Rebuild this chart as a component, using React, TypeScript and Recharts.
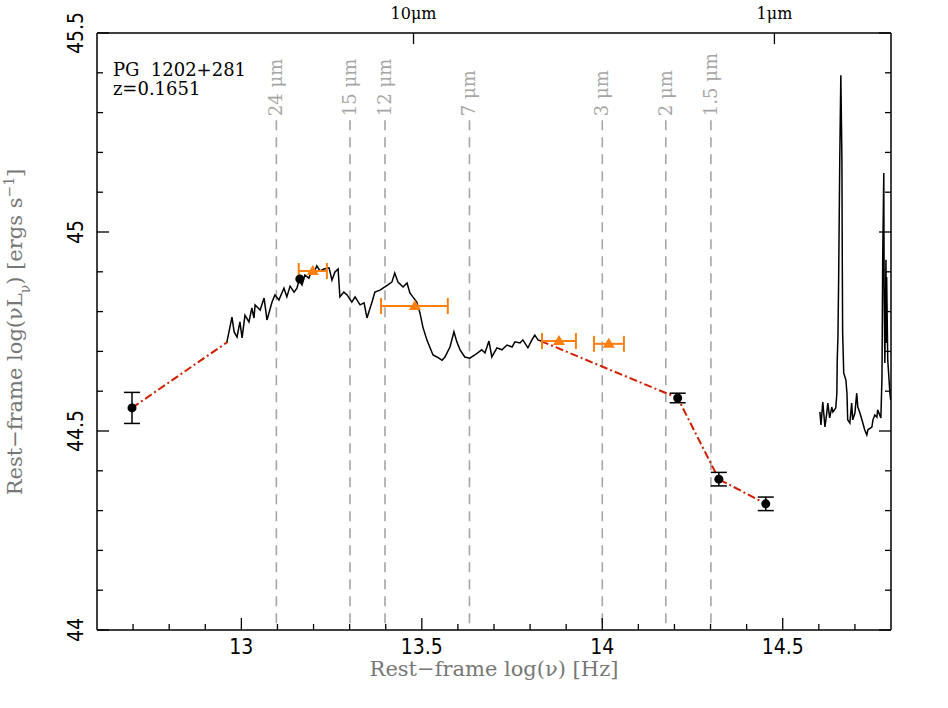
import React from 'react'
import {
  ComposedChart,
  Line,
  Scatter,
  XAxis,
  YAxis,
  ErrorBar,
  ReferenceLine,
  ReferenceDot,
} from 'recharts'

// IRS mid-infrared spectrum (log nu, log nuL_nu)
const IRS_NU = [
  12.960, 12.974, 12.980, 12.988, 12.996, 13.002, 13.010, 13.021, 13.029, 13.035,
  13.038, 13.052, 13.063, 13.071, 13.085, 13.093, 13.104, 13.118, 13.126, 13.135,
  13.146, 13.154, 13.160, 13.168, 13.176, 13.187, 13.193, 13.201, 13.209, 13.218,
  13.229, 13.243, 13.251, 13.259, 13.268, 13.273, 13.284, 13.293, 13.306, 13.315,
  13.329, 13.340, 13.348, 13.362, 13.370, 13.384, 13.406, 13.417, 13.425, 13.434,
  13.448, 13.459, 13.467, 13.475, 13.486, 13.495, 13.503, 13.514, 13.522, 13.531,
  13.542, 13.556, 13.564, 13.578, 13.589, 13.597, 13.606, 13.619, 13.633, 13.647,
  13.666, 13.675, 13.686, 13.694, 13.708, 13.722, 13.736, 13.750, 13.758, 13.772,
  13.780, 13.794, 13.805, 13.813, 13.822, 13.830,
]
const IRS_LUM = [
  44.724, 44.786, 44.749, 44.736, 44.774, 44.734, 44.791, 44.774, 44.809, 44.784,
  44.817, 44.804, 44.834, 44.779, 44.824, 44.842, 44.829, 44.859, 44.837, 44.864,
  44.849, 44.859, 44.879, 44.867, 44.892, 44.884, 44.899, 44.897, 44.915, 44.902,
  44.907, 44.910, 44.879, 44.899, 44.907, 44.837, 44.849, 44.842, 44.824, 44.837,
  44.817, 44.822, 44.784, 44.824, 44.849, 44.854, 44.867, 44.874, 44.897, 44.874,
  44.862, 44.872, 44.847, 44.837, 44.824, 44.796, 44.761, 44.729, 44.711, 44.691,
  44.686, 44.678, 44.686, 44.711, 44.749, 44.724, 44.704, 44.686, 44.683, 44.691,
  44.704, 44.696, 44.726, 44.686, 44.709, 44.704, 44.716, 44.711, 44.724, 44.721,
  44.729, 44.709, 44.729, 44.741, 44.729, 44.726,
]

// optical / near-IR spectrum
const OPT_NU = [
  14.603, 14.606, 14.611, 14.617, 14.622, 14.625, 14.630, 14.636, 14.639, 14.647,
  14.650, 14.651, 14.653, 14.655, 14.658, 14.661, 14.664, 14.665, 14.666, 14.669,
  14.675, 14.678, 14.680, 14.686, 14.691, 14.694, 14.700, 14.705, 14.708, 14.714,
  14.722, 14.727, 14.733, 14.736, 14.747, 14.750, 14.755, 14.761, 14.763, 14.772,
  14.775, 14.777, 14.780, 14.781, 14.783, 14.786, 14.787, 14.788, 14.791, 14.797,
  14.799,
]
const OPT_LUM = [
  44.548, 44.515, 44.573, 44.510, 44.545, 44.570, 44.533, 44.560, 44.548, 44.558,
  44.595, 44.678, 44.736, 44.887, 45.181, 45.394, 45.181, 44.930, 44.746, 44.646,
  44.628, 44.595, 44.528, 44.520, 44.570, 44.528, 44.545, 44.595, 44.560, 44.545,
  44.520, 44.503, 44.490, 44.503, 44.510, 44.528, 44.540, 44.535, 44.553, 44.533,
  44.636, 44.930, 45.148, 44.847, 44.671, 44.930, 44.721, 44.887, 44.678, 44.595,
  44.578,
]

// interpolated SED (red dash-dot)
const SED_FIR_NU = [12.697, 12.962]
const SED_FIR_LUM = [44.558, 44.724]
const SED_NIR_NU = [13.830, 14.209, 14.323, 14.453]
const SED_NIR_LUM = [44.726, 44.583, 44.379, 44.317]

// photometry (black points); null = no visible error bar
const PHOT_NU = [12.697, 13.162, 14.209, 14.323, 14.453]
const PHOT_LUM = [44.558, 44.882, 44.583, 44.379, 44.317]
const PHOT_ERR = [0.039, null, 0.012, 0.017, 0.017]

// synthetic band points (orange)
const BAND_NU = [13.198, 13.481, 13.880, 14.018]
const BAND_LO = [13.159, 13.387, 13.833, 13.977]
const BAND_HI = [13.237, 13.572, 13.927, 14.060]
const BAND_LUM = [44.902, 44.814, 44.726, 44.719]

// rest-frame wavelength markers
const WAVE_LABELS = ['24 μm', '15 μm', '12 μm', '7 μm', '3 μm', '2 μm', '1.5 μm']
const WAVE_NU = [13.097, 13.301, 13.398, 13.632, 14.0, 14.176, 14.301]
const WAVE_TOP = 45.281

// top axis (wavelength) ticks
const TOP_LABELS = ['10μm', '1μm']
const TOP_NU = [13.477, 14.477]

const X_TICKS = [
  12.7, 12.8, 12.9, 13, 13.1, 13.2, 13.3, 13.4, 13.5, 13.6, 13.7, 13.8, 13.9, 14,
  14.1, 14.2, 14.3, 14.4, 14.5, 14.6, 14.7,
]
const X_MAJOR = [13, 13.5, 14, 14.5]
const Y_TICKS = [
  44, 44.1, 44.2, 44.3, 44.4, 44.5, 44.6, 44.7, 44.8, 44.9, 45, 45.1, 45.2, 45.3,
  45.4, 45.5,
]
const Y_MAJOR = [44, 44.5, 45, 45.5]

const irsData = IRS_NU.map((x, i) => ({ x, y: IRS_LUM[i] }))
const optData = OPT_NU.map((x, i) => ({ x, y: OPT_LUM[i] }))
const sedFir = SED_FIR_NU.map((x, i) => ({ x, y: SED_FIR_LUM[i] }))
const sedNir = SED_NIR_NU.map((x, i) => ({ x, y: SED_NIR_LUM[i] }))
const photErrData = PHOT_NU.map((x, i) => ({ x, y: PHOT_LUM[i], err: PHOT_ERR[i] })).filter(d => d.err != null)
const photData = PHOT_NU.map((x, i) => ({ x, y: PHOT_LUM[i] }))
const bandData = BAND_NU.map((x, i) => ({
  x,
  y: BAND_LUM[i],
  xerr: [x - BAND_LO[i], BAND_HI[i] - x],
}))

const ORANGE = '#ff7f0e'
const RED = '#d21e00'
const GREY = '#a6a6a6'
const TICK_FONT = '"Liberation Sans Narrow", "DejaVu Sans Condensed", sans-serif'
const SERIF = '"DejaVu Serif", serif'

const isMajor = (v: number, majors: number[]) => majors.some(m => Math.abs(m - v) < 1e-6)

const BottomTick = (props: any) => {
  const { x, y, payload } = props
  const major = isMajor(payload.value, X_MAJOR)
  return (
    <g>
      <line x1={x} y1={y} x2={x} y2={y - (major ? 12 : 6)} stroke="#000" strokeWidth={1.3} />
      {major && (
        <text x={x} y={y + 24} textAnchor="middle" fontSize={21} fontFamily={TICK_FONT} fill="#000">
          {payload.value}
        </text>
      )}
    </g>
  )
}

const LeftTick = (props: any) => {
  const { x, y, payload } = props
  const major = isMajor(payload.value, Y_MAJOR)
  const tx = x - 14
  return (
    <g>
      <line x1={x} y1={y} x2={x + (major ? 12 : 6)} y2={y} stroke="#000" strokeWidth={1.3} />
      {major && (
        <text
          x={tx}
          y={y}
          transform={`rotate(-90 ${tx} ${y})`}
          textAnchor="middle"
          fontSize={21}
          fontFamily={TICK_FONT}
          fill="#000"
        >
          {payload.value}
        </text>
      )}
    </g>
  )
}

const RightTick = (props: any) => {
  const { x, y, payload } = props
  const major = isMajor(payload.value, Y_MAJOR)
  return <line x1={x} y1={y} x2={x - (major ? 12 : 6)} y2={y} stroke="#000" strokeWidth={1.3} />
}

const triangle = (props: any) => {
  const { cx, cy } = props
  return <polygon points={`${cx},${cy - 6} ${cx - 6},${cy + 4} ${cx + 6},${cy + 4}`} fill={ORANGE} />
}

const dot = (props: any) => {
  const { cx, cy } = props
  return <circle cx={cx} cy={cy} r={4.5} fill="#000" />
}

const noDot = () => <g />

const waveLabel = (text: string) => (props: any) => {
  const { viewBox } = props
  const x = viewBox.x + 6
  const y = viewBox.y - 4
  return (
    <text x={x} y={y} transform={`rotate(-90 ${x} ${y})`} textAnchor="start" fontSize={18} fontFamily={SERIF} fill={GREY}>
      {text}
    </text>
  )
}

const topLabel = (text: string) => (props: any) => {
  const { viewBox } = props
  return (
    <text x={viewBox.x} y={19} textAnchor="middle" fontSize={16} fontFamily={SERIF} fill="#000">
      {text}
    </text>
  )
}

const nameLabel = (props: any) => {
  const { viewBox } = props
  return (
    <g fontFamily={SERIF} fontSize={18} fill="#000">
      <text x={viewBox.x} y={viewBox.y} xmlSpace="preserve">PG  1202+281</text>
      <text x={viewBox.x} y={viewBox.y + 19}>z=0.1651</text>
    </g>
  )
}

const xTitle = (props: any) => {
  const { viewBox } = props
  return (
    <text x={viewBox.x + viewBox.width / 2} y={676} textAnchor="middle" fontSize={21} fontFamily={SERIF} fill="#777">
      Rest−frame log(ν) [Hz]
    </text>
  )
}

const yTitle = () => (
  <text x={22} y={332} transform="rotate(-90 22 332)" textAnchor="middle" fontSize={21} fontFamily={SERIF} fill="#777">
    Rest−frame log(νL<tspan baselineShift="sub" fontSize={14}>ν</tspan>) [ergs s<tspan baselineShift="super" fontSize={14}>−1</tspan>]
  </text>
)

export default function App() {
  return (
    <div style={{ width: 948, height: 708, background: '#fff' }}>
      <style>{'body{margin:0}'}</style>
      <ComposedChart width={948} height={708} margin={{ top: 13, right: 47, bottom: 48, left: 37 }}>
        <XAxis
          dataKey="x"
          type="number"
          domain={[12.6, 14.8]}
          allowDataOverflow
          ticks={X_TICKS}
          interval={0}
          tickSize={0}
          tickMargin={0}
          tickLine={false}
          tick={BottomTick}
          height={30}
          axisLine={{ stroke: '#000', strokeWidth: 1.5 }}
          label={{ content: xTitle }}
        />
        <XAxis
          xAxisId="top"
          orientation="top"
          type="number"
          domain={[12.6, 14.8]}
          allowDataOverflow
          tick={false}
          tickLine={false}
          height={20}
          axisLine={{ stroke: '#000', strokeWidth: 1.5 }}
        />
        <YAxis
          dataKey="y"
          type="number"
          domain={[44, 45.5]}
          allowDataOverflow
          ticks={Y_TICKS}
          interval={0}
          tickSize={0}
          tickMargin={0}
          tickLine={false}
          tick={LeftTick}
          width={60}
          axisLine={{ stroke: '#000', strokeWidth: 1.5 }}
          label={{ content: yTitle }}
        />
        <YAxis
          yAxisId="right"
          orientation="right"
          type="number"
          domain={[44, 45.5]}
          allowDataOverflow
          ticks={Y_TICKS}
          interval={0}
          tickSize={0}
          tickMargin={0}
          tickLine={false}
          tick={RightTick}
          width={10}
          axisLine={{ stroke: '#000', strokeWidth: 1.5 }}
        />

        {WAVE_NU.map((nu, i) => (
          <ReferenceLine
            key={WAVE_LABELS[i]}
            segment={[{ x: nu, y: WAVE_TOP }, { x: nu, y: 44 }]}
            stroke={GREY}
            strokeWidth={1.6}
            strokeDasharray="10 7"
            label={waveLabel(WAVE_LABELS[i])}
          />
        ))}

        {TOP_NU.map((nu, i) => (
          <ReferenceLine
            key={TOP_LABELS[i]}
            segment={[{ x: nu, y: 45.5 }, { x: nu, y: 45.472 }]}
            stroke="#000"
            strokeWidth={1.3}
            label={topLabel(TOP_LABELS[i])}
          />
        ))}

        <ReferenceDot x={12.644} y={45.392} r={0} stroke="none" fill="none" label={nameLabel} />

        <Line data={sedFir} dataKey="y" type="linear" stroke={RED} strokeWidth={2} strokeDasharray="8 3 2 3" dot={false} isAnimationActive={false} />
        <Line data={sedNir} dataKey="y" type="linear" stroke={RED} strokeWidth={2} strokeDasharray="8 3 2 3" dot={false} isAnimationActive={false} />
        <Line data={irsData} dataKey="y" type="linear" stroke="#000" strokeWidth={1.5} dot={false} isAnimationActive={false} />
        <Line data={optData} dataKey="y" type="linear" stroke="#000" strokeWidth={1.5} dot={false} isAnimationActive={false} />

        <Scatter data={photErrData} dataKey="y" shape={noDot} isAnimationActive={false}>
          <ErrorBar dataKey="err" direction="y" width={8} stroke="#000" strokeWidth={1.5} isAnimationActive={false} />
        </Scatter>
        <Scatter data={photData} dataKey="y" shape={dot} isAnimationActive={false} />
        <Scatter data={bandData} dataKey="y" shape={triangle} isAnimationActive={false}>
          <ErrorBar dataKey="xerr" direction="x" width={8} stroke={ORANGE} strokeWidth={2} isAnimationActive={false} />
        </Scatter>
      </ComposedChart>
    </div>
  )
}
